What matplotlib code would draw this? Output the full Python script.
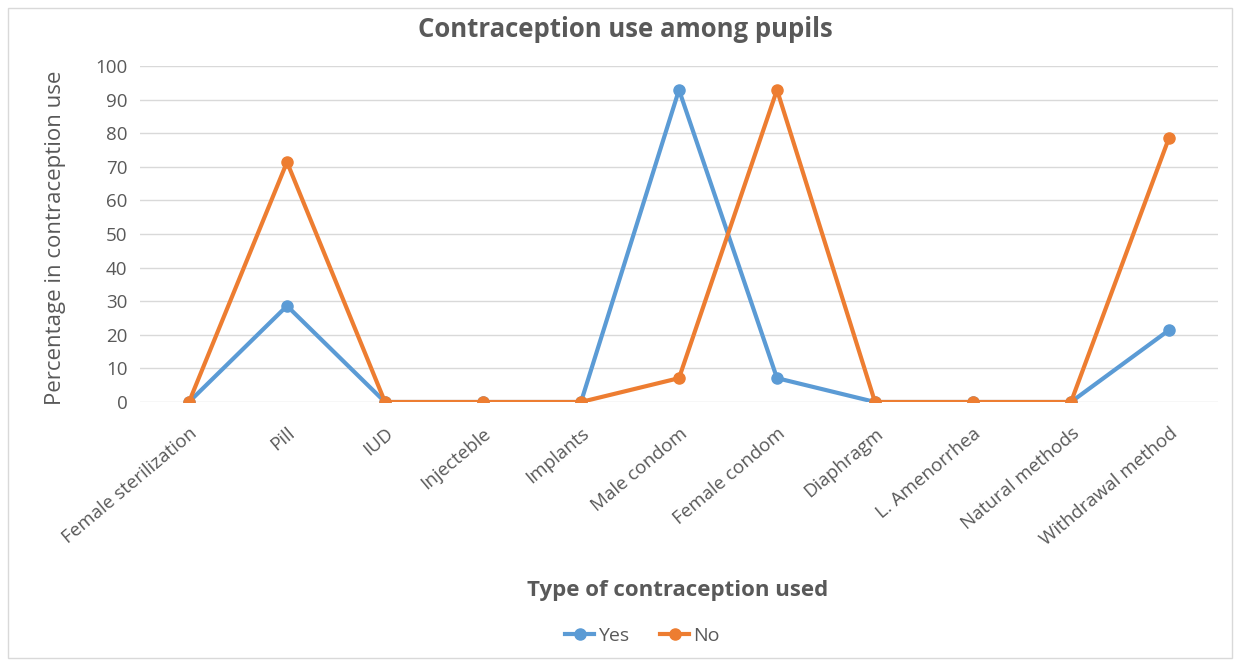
import matplotlib.pyplot as plt
from matplotlib.patches import Rectangle

# Datos de la gráfica
metodos = ["Female sterilization", "Pill", "IUD", "Injecteble", "Implants",
           "Male condom", "Female condom", "Diaphragm", "L. Amenorrhea",
           "Natural methods", "Withdrawal method"]
si = [0, 28.6, 0, 0, 0, 92.9, 7.1, 0, 0, 0, 21.4]
no = [0, 71.4, 0, 0, 0, 7.1, 92.9, 0, 0, 0, 78.6]

plt.rcParams['font.family'] = ['Open Sans', 'DejaVu Sans']
gris = '#595959'

fig = plt.figure(figsize=(12.41, 6.64), dpi=100)
ax = fig.add_axes([140 / 1241, 262 / 664, 1078 / 1241, 336 / 664])

# Marco exterior del gráfico
fig.patches.append(Rectangle((8 / 1241, 6 / 664), 1224 / 1241, 650 / 664,
                             transform=fig.transFigure, fill=False,
                             edgecolor='#d9d9d9', linewidth=1))

x = range(len(metodos))
ax.plot(x, si, color='#5B9BD5', linewidth=3, marker='o', markersize=8, label='Yes', zorder=3)
ax.plot(x, no, color='#ED7D31', linewidth=3, marker='o', markersize=8, label='No', zorder=3)

ax.set_xlim(-0.5, len(metodos) - 0.5)
ax.set_ylim(0, 100)
ax.set_yticks(range(0, 101, 10))
ax.grid(axis='y', color='#d9d9d9', linewidth=1)
ax.set_axisbelow(True)
for s in ax.spines.values():
    s.set_visible(False)
ax.tick_params(length=0, colors=gris, labelsize=13.5)
ax.tick_params(axis='y', pad=9)
ax.set_xticks(list(x))
ax.set_xticklabels(metodos, rotation=40, ha='right', rotation_mode='anchor')
ax.tick_params(axis='x', pad=16)

ax.set_ylabel('Percentage in contraception use', color=gris, fontsize=16)
ax.yaxis.set_label_coords(-0.069, 0.49)
ax.set_xlabel('Type of contraception used', color=gris, fontsize=16, fontweight='bold')
ax.xaxis.set_label_coords(0.499, -0.53)

fig.text(0.504, 0.955, 'Contraception use among pupils', ha='center', va='center',
         fontsize=18.5, fontweight='bold', color=gris)

ax.legend(loc='center', bbox_to_anchor=(0.466, -0.695), ncol=2, frameon=False,
          fontsize=14, labelcolor=gris, handlelength=1.5, columnspacing=1.6,
          handletextpad=0.2)

fig.savefig('out.png', dpi=100)
